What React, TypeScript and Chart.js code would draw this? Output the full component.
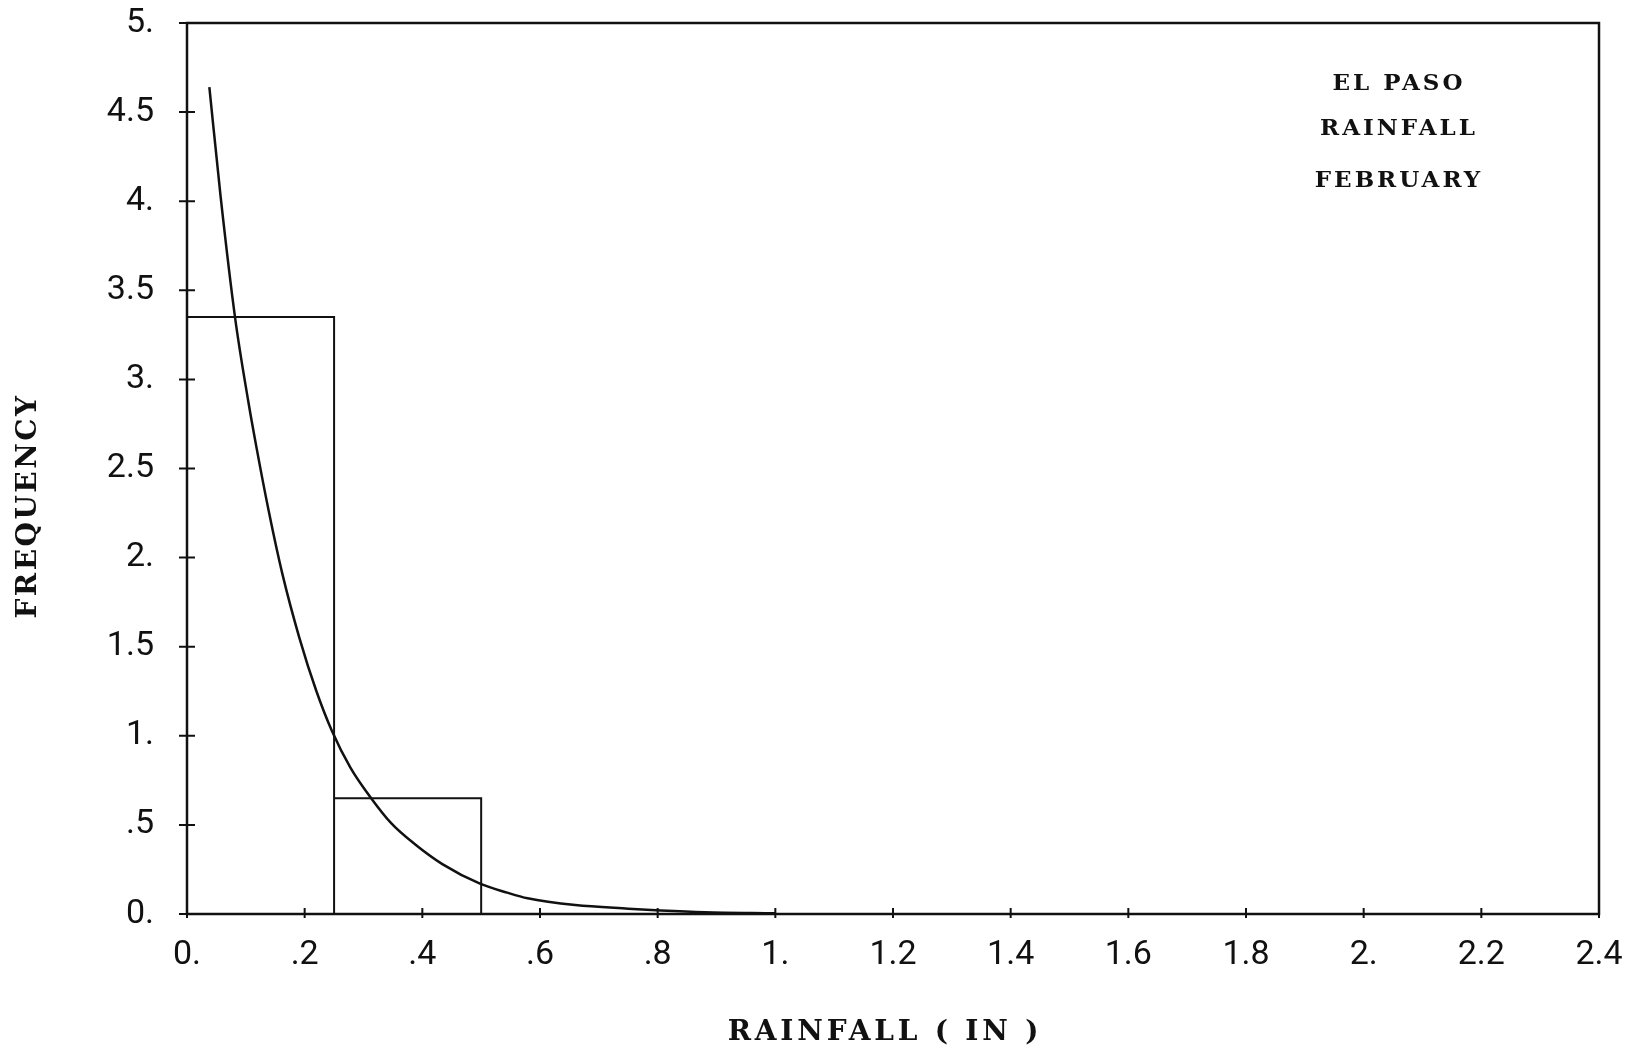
import React, { useEffect, useRef } from 'react';
import { Chart, registerables } from 'chart.js';

Chart.register(...registerables);

// ---- data ----
const binEdges = [0, 0.25, 0.5];
const binFrequency = [3.35, 0.65];

const curveX = [0.038, 0.057, 0.082, 0.104, 0.118, 0.139, 0.162, 0.191, 0.22, 0.246, 0.278, 0.313, 0.347, 0.388, 0.434, 0.498, 0.544, 0.579, 0.66, 0.75, 0.805, 0.88, 1.0];
const curveY = [4.64, 4.03, 3.34, 2.88, 2.62, 2.26, 1.91, 1.55, 1.25, 1.03, 0.82, 0.65, 0.51, 0.39, 0.28, 0.17, 0.12, 0.088, 0.05, 0.03, 0.02, 0.01, 0.004];

const xTickValues = [0, 0.2, 0.4, 0.6, 0.8, 1.0, 1.2, 1.4, 1.6, 1.8, 2.0, 2.2, 2.4];
const xTickLabels = ['0.', '.2', '.4', '.6', '.8', '1.', '1.2', '1.4', '1.6', '1.8', '2.', '2.2', '2.4'];
const yTickValues = [0, 0.5, 1, 1.5, 2, 2.5, 3, 3.5, 4, 4.5, 5];
const yTickLabels = ['0.', '.5', '1.', '1.5', '2.', '2.5', '3.', '3.5', '4.', '4.5', '5.'];

const annotationLines = ['EL PASO', 'RAINFALL', 'FEBRUARY'];
const xAxisTitle = 'RAINFALL ( IN )';
const yAxisTitle = 'FREQUENCY';

const TICK_FONT = 'Roboto, "Noto Sans", sans-serif';
const TITLE_FONT = '"DejaVu Serif", "Liberation Serif", serif';
const INK = '#111';

const framePlugin = {
  id: 'frameAndText',
  afterDraw(chart: any) {
    const { ctx, chartArea: ca, scales } = chart;
    ctx.save();
    ctx.strokeStyle = INK;
    ctx.lineWidth = 2.5;
    ctx.strokeRect(ca.left, ca.top, ca.right - ca.left, ca.bottom - ca.top);

    ctx.lineWidth = 2;
    ctx.beginPath();
    scales.y.ticks.forEach((t: any) => {
      const py = scales.y.getPixelForValue(t.value);
      ctx.moveTo(ca.left - 8, py);
      ctx.lineTo(ca.left + 8, py);
    });
    scales.x.ticks.forEach((t: any) => {
      const px = scales.x.getPixelForValue(t.value);
      ctx.moveTo(px, ca.bottom - 6);
      ctx.lineTo(px, ca.bottom + 4);
    });
    ctx.stroke();

    ctx.fillStyle = INK;
    ctx.textAlign = 'center';
    ctx.textBaseline = 'middle';

    // x axis title
    ctx.font = `bold 28px ${TITLE_FONT}`;
    (ctx as any).letterSpacing = '3.8px';
    ctx.fillText(xAxisTitle, 885, 1033);

    // y axis title
    (ctx as any).letterSpacing = '2.5px';
    ctx.save();
    ctx.translate(29, 506);
    ctx.rotate(-Math.PI / 2);
    ctx.fillText(yAxisTitle, 0, 0);
    ctx.restore();

    // annotation
    ctx.font = `bold 23px ${TITLE_FONT}`;
    (ctx as any).letterSpacing = '3px';
    const ys = [84, 129, 181];
    annotationLines.forEach((s, i) => ctx.fillText(s, 1399, ys[i]));
    (ctx as any).letterSpacing = '0px';
    ctx.restore();
  },
};

export default function App() {
  const ref = useRef<HTMLCanvasElement | null>(null);

  useEffect(() => {
    if (!ref.current) return;
    const histPoints: { x: number; y: number }[] = [];
    binFrequency.forEach((f, i) => {
      const a = binEdges[i];
      const b = binEdges[i + 1];
      histPoints.push({ x: a, y: 0 }, { x: a, y: f }, { x: b, y: f }, { x: b, y: 0 });
    });
    const curvePoints = curveX.map((x, i) => ({ x, y: curveY[i] }));

    const chart = new Chart(ref.current, {
      type: 'line',
      data: {
        datasets: [
          {
            label: 'Histogram',
            data: histPoints,
            borderColor: INK,
            borderWidth: 2,
            pointRadius: 0,
            tension: 0,
            fill: false,
          },
          {
            label: 'Fitted density',
            data: curvePoints,
            borderColor: INK,
            borderWidth: 2.5,
            pointRadius: 0,
            cubicInterpolationMode: 'monotone',
            fill: false,
          },
        ],
      },
      options: {
        responsive: false,
        animation: false,
        events: [],
        layout: { padding: { top: 23, right: 42, left: 0, bottom: 0 }, autoPadding: false },
        plugins: {
          legend: { display: false },
          tooltip: { enabled: false },
          title: { display: false },
        },
        scales: {
          x: {
            type: 'linear',
            min: 0,
            max: 2.4,
            afterBuildTicks: (scale: any) => {
              scale.ticks = xTickValues.map((v) => ({ value: v }));
            },
            afterFit: (scale: any) => {
              scale.height = 138;
              scale.paddingLeft = 0;
              scale.paddingRight = 0;
            },
            ticks: {
              autoSkip: false,
              maxRotation: 0,
              padding: 21,
              color: INK,
              font: { family: TICK_FONT, size: 34 },
              callback: (_v: any, i: number) => xTickLabels[i],
            },
            grid: { display: false, drawTicks: false },
            border: { display: false },
          },
          y: {
            type: 'linear',
            min: 0,
            max: 5,
            afterBuildTicks: (scale: any) => {
              scale.ticks = yTickValues.map((v) => ({ value: v }));
            },
            afterFit: (scale: any) => {
              scale.width = 187;
              scale.paddingTop = 0;
              scale.paddingBottom = 0;
            },
            ticks: {
              autoSkip: false,
              padding: 33,
              color: INK,
              font: { family: TICK_FONT, size: 34 },
              callback: (_v: any, i: number) => yTickLabels[i],
            },
            grid: { display: false, drawTicks: false },
            border: { display: false },
          },
        },
      } as any,
      plugins: [framePlugin],
    });
    return () => chart.destroy();
  }, []);

  return (
    <div style={{ position: 'absolute', left: 0, top: 0, width: 1641, height: 1052, background: '#fff' }}>
      <canvas ref={ref} width={1641} height={1052} style={{ display: 'block', width: 1641, height: 1052 }} />
    </div>
  );
}
